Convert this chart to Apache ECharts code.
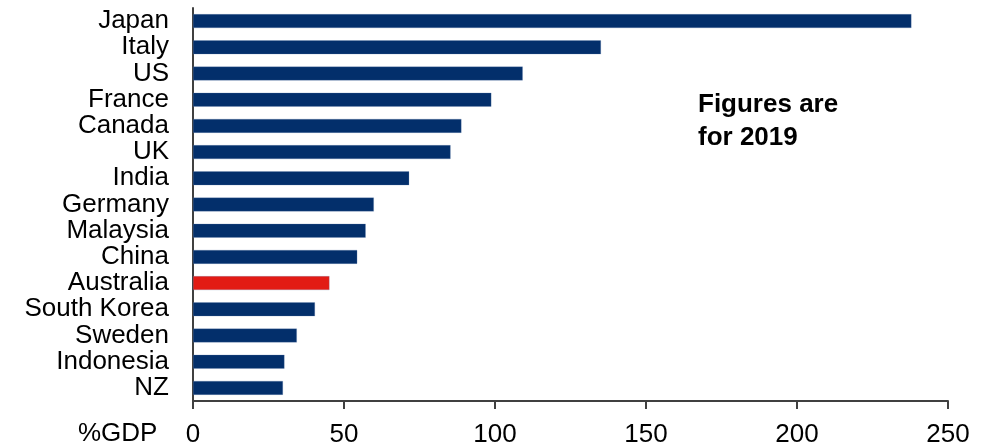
<!DOCTYPE html>
<html>
<head>
<meta charset="utf-8">
<style>
html,body{margin:0;padding:0;background:#fff;}
#chart{width:993px;height:448px;}
</style>
<script src="https://cdn.jsdelivr.net/npm/echarts@6/dist/echarts.min.js"></script>
</head>
<body>
<div id="chart"></div>
<script>
const categories = ["Japan","Italy","US","France","Canada","UK","India","Germany","Malaysia","China","Australia","South Korea","Sweden","Indonesia","NZ"];
const values = [237.9,135.1,109.2,98.8,88.9,85.3,71.6,59.9,57.2,54.4,45.2,40.4,34.4,30.3,29.8];
const highlighted = ["Australia"];
const xTicks = [0,50,100,150,200,250];
const unitLabel = "%GDP";
const note = "Figures are\nfor 2019";

const NAVY = "#032F6B", RED = "#E21B14", AXIS = "#404040";
const FONT = "Liberation Sans, Arial, sans-serif";

const chart = echarts.init(document.getElementById("chart"), null, {renderer:"canvas"});
chart.setOption({
  animation:false,
  backgroundColor:"#fff",
  grid:{left:193,right:45,top:8,bottom:43,containLabel:false},
  xAxis:{
    type:"value",
    min:xTicks[0],max:xTicks[xTicks.length-1],interval:xTicks[1]-xTicks[0],
    axisLine:{show:true,lineStyle:{color:AXIS,width:2}},
    axisTick:{show:true,length:8,lineStyle:{color:AXIS,width:2}},
    splitLine:{show:false},
    axisLabel:{color:"#000",fontFamily:FONT,fontSize:26,margin:21}
  },
  yAxis:{
    type:"category",
    data:categories,
    inverse:true,
    axisLine:{show:true,lineStyle:{color:AXIS,width:2}},
    axisTick:{show:false},
    axisLabel:{color:"#000",fontFamily:FONT,fontSize:26,margin:24,interval:0,hideOverlap:false}
  },
  series:[{
    type:"bar",
    barWidth:14,
    data:categories.map((c,i)=>({value:values[i],itemStyle:{color:highlighted.includes(c)?RED:NAVY}})),
    itemStyle:{borderColor:"rgba(110,140,185,0.5)",borderWidth:0.5}
  }],
  graphic:[
    {type:"text",left:78,top:421,style:{text:unitLabel,fill:"#000",font:"26px "+FONT}},
    {type:"text",left:698,top:88,style:{text:note,fill:"#000",font:"bold 26px "+FONT,lineHeight:33}}
  ]
});
</script>
</body>
</html>
